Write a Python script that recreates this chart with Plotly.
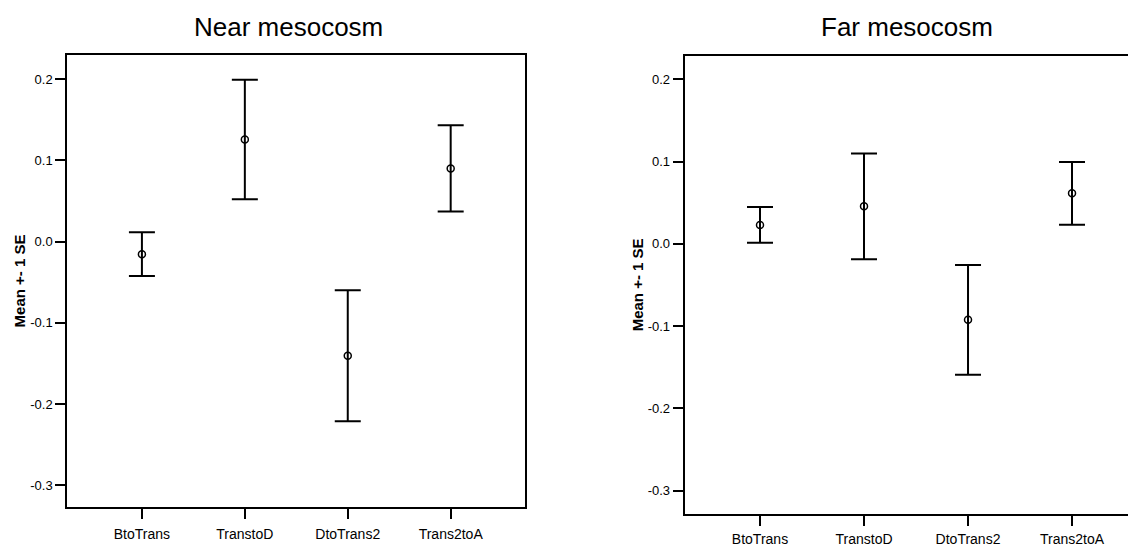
import plotly.graph_objects as go

categories = ["BtoTrans", "TranstoD", "DtoTrans2", "Trans2toA"]
near_mean = [-0.0155, 0.1255, -0.1404, 0.0900]
near_se = [0.0270, 0.0735, 0.0806, 0.0530]
far_mean = [0.0230, 0.0456, -0.0923, 0.0614]
far_se = [0.0218, 0.0644, 0.0667, 0.0382]
titles = ["Near mesocosm", "Far mesocosm"]
ytitle = "Mean +- 1 SE"
yticks = [0.2, 0.1, 0.0, -0.1, -0.2, -0.3]
ytick_text = ["0.2", "0.1", "0.0", "-0.1", "-0.2", "-0.3"]

# page body has an 8px default margin; the figure is sized to fill the rest
OFF = 8
VW, VH = 1136, 547
W, H = VW - OFF, VH - OFF
FONT = "Liberation Sans, Arial, sans-serif"

fig = go.Figure()

def add_series(mean, se, xa, ya):
    fig.add_trace(go.Scatter(
        x=categories, y=mean, xaxis=xa, yaxis=ya, mode="markers",
        marker=dict(symbol="circle-open", size=7, color="black",
                    line=dict(width=1.5, color="black")),
        error_y=dict(type="data", array=se, visible=True, color="black",
                     thickness=2, width=13),
        showlegend=False, hoverinfo="x+y"))

add_series(near_mean, near_se, "x", "y")
add_series(far_mean, far_se, "x2", "y2")

def fx(px):
    return (px - OFF) / W

def fy(py):
    return (H - (py - OFF)) / H

def px_x(a, b):
    return [fx(a), min(1.0, fx(b))]

def px_y(top, bottom):
    return [fy(bottom), fy(top)]

axis_common = dict(showgrid=False, zeroline=False, showline=True, linecolor="black",
                   linewidth=2, ticks="outside", ticklen=10, tickwidth=1.5,
                   tickcolor="black")

fig.update_layout(
    width=W, height=H, autosize=False,
    margin=dict(l=0, r=0, t=0, b=0),
    paper_bgcolor="white", plot_bgcolor="white",
    font=dict(family=FONT, color="black"),
    xaxis=dict(domain=px_x(67.3, 525.3), anchor="y", type="category",
               range=[-0.725, 3.725], mirror=True, ticklabelstandoff=3,
               tickfont=dict(size=14), **axis_common),
    yaxis=dict(domain=px_y(56, 514), anchor="x", range=[-0.327, 0.229],
               tickvals=yticks, ticktext=ytick_text, mirror=True,
               tickfont=dict(size=13), **axis_common),
    xaxis2=dict(domain=px_x(684.7, 1136), anchor="y2", type="category",
                range=[-0.724, 3.615], mirror=True, ticklabelstandoff=2,
                tickfont=dict(size=14), **axis_common),
    yaxis2=dict(domain=px_y(56.7, 520.3), anchor="x2", range=[-0.328, 0.2283],
                tickvals=yticks, ticktext=ytick_text, mirror=False,
                tickfont=dict(size=13), **axis_common),
)

ann = []
for txt, cx in zip(titles, [288, 906.5]):
    ann.append(dict(text=txt, x=fx(cx), y=fy(27), xref="paper", yref="paper",
                    xanchor="center", yanchor="middle", showarrow=False,
                    font=dict(size=26, family=FONT, color="black")))
for cx, cy in [(19, 285), (637, 289)]:
    ann.append(dict(text="<b>" + ytitle + "</b>", x=fx(cx), y=fy(cy),
                    xref="paper", yref="paper", xanchor="center", yanchor="middle",
                    textangle=-90, showarrow=False,
                    font=dict(size=15, family=FONT, color="black")))
fig.update_layout(annotations=ann)

fig.write_html("out.html")
